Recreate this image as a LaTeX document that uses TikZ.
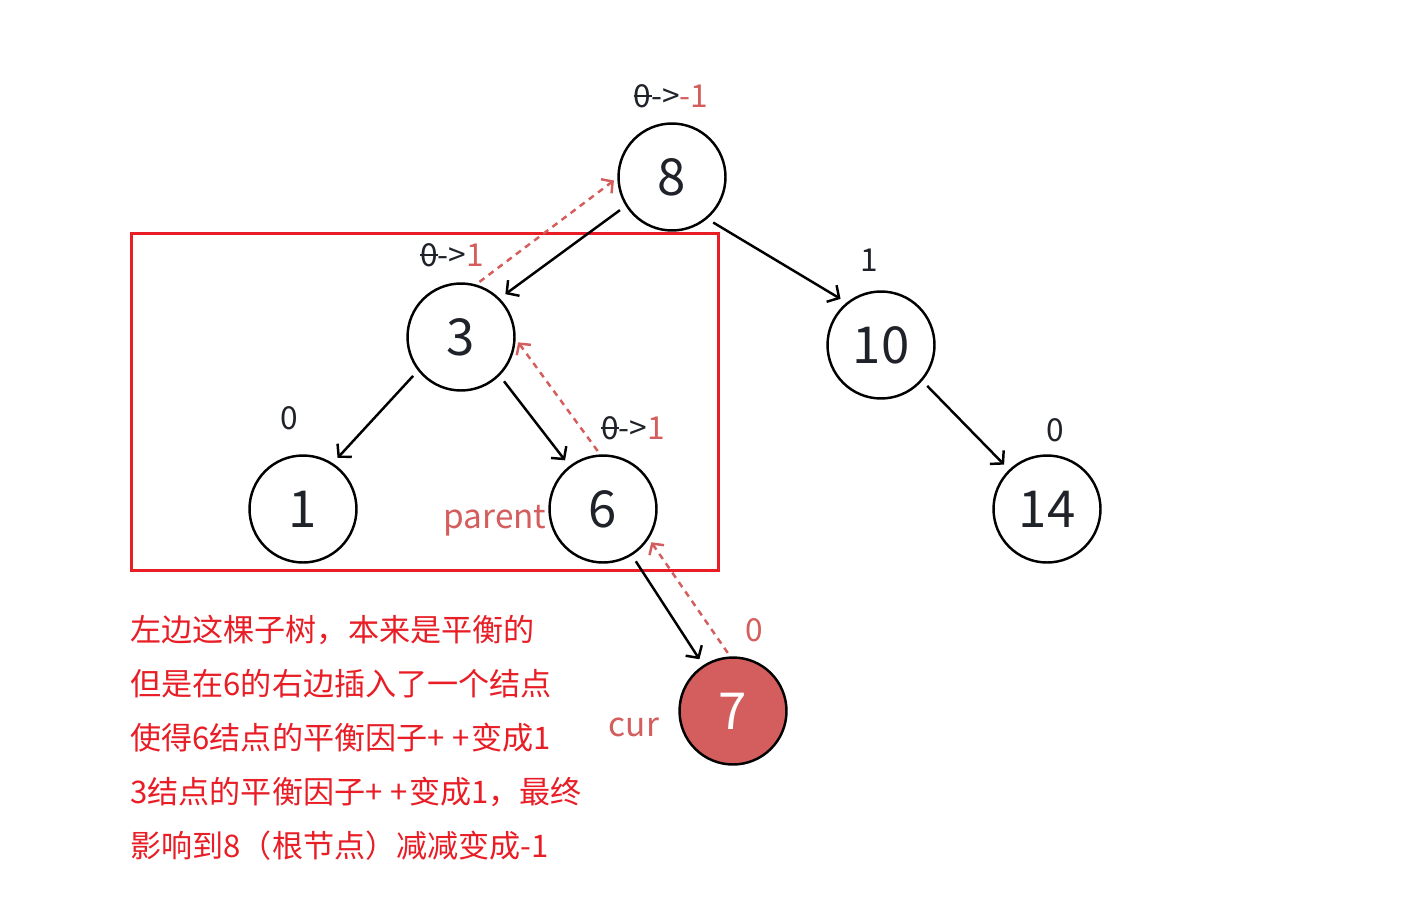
\documentclass[tikz,border=0pt]{standalone}
\usepackage{fontspec}
\setmainfont{Noto Sans CJK SC}
\usetikzlibrary{arrows.meta}
\definecolor{inkdark}{HTML}{1F2329}
\definecolor{softred}{HTML}{D45D5D}
\definecolor{boxred}{HTML}{E81D25}
\newcommand{\struckzero}{\rlap{\rule[0.33em]{0.57em}{0.065em}}0}
\newcommand{\plusplus}{+\kern0.25em+\kern0.05em}

\begin{document}
\begin{tikzpicture}[x=0.02cm,y=-0.02cm,
  tnode/.style={circle,draw=black,line width=1.4pt,minimum size=2.14cm,inner sep=0pt,text=inkdark,font=\fontsize{29}{34}\selectfont},
  edge/.style={line width=1.4pt,-{Straight Barb[length=5pt,width=11pt]},shorten <=4pt,shorten >=4pt},
  back/.style={softred,line width=1.4pt,dash pattern=on 3.5pt off 3pt,-{Straight Barb[length=4.5pt,width=10pt]},shorten <=2.4pt,shorten >=2.4pt},
  bf/.style={text=inkdark,font=\fontsize{18}{21}\selectfont},
  note/.style={text=softred,font=\fontsize{19}{22}\selectfont}]
\useasboundingbox (0,0) rectangle (1425,919);

% the box round the left subtree
\draw[boxred,line width=1.7pt] (131.5,233.5) rectangle (718.5,570);

% tree
\foreach \n/\x/\y in {8/672/177,3/461/337,10/881/345,1/303/509,6/603/509,14/1047/509}
  \node[tnode] (n\n) at (\x,\y) {\n};
\node[tnode,fill=softred,text=white] (n7) at (733,711) {7};

\foreach \a/\b/\p/\q in {8/3/212/45,8/10/-50/129,3/1/218/57,3/6/-45/128,10/14/-41/134,6/7/-58/123}
  \draw[edge] (n\a.\p) -- (n\b.\q);

% going back up to the root
\foreach \a/\b/\p/\q in {7/6/93/-33,6/3/93/-2,3/8/74/181}
  \draw[back] (n\a.\p) -- (n\b.\q);

% balance factors
\node[bf] (f8) at (671,96) {\struckzero->\textcolor{softred}{-1}};
\node[bf] (f3) at (452,255) {\struckzero->\textcolor{softred}{1}};
\node[bf] (f6) at (633,428) {\struckzero->\textcolor{softred}{1}};
\node[bf] (f10) at (869,260) {1};
\node[bf] (f1) at (289,418) {0};
\node[bf] (f14) at (1055,430) {0};
\node[bf,text=softred] (f7) at (754,630) {0};

\node[note] (lparent) at (495,521) {parent};
\node[note] (lcur) at (634,727) {cur};

\foreach \t [count=\i] in {左边这棵子树，本来是平衡的,%
  但是在6的右边插入了一个结点,%
  使得6结点的平衡因子\plusplus 变成1,%
  3结点的平衡因子\plusplus 变成1，最终,%
  影响到8（根节点）减减变成-1}
  \node[anchor=west,inner sep=0pt,text=boxred,font=\fontsize{17.7}{20}\selectfont] (txt\i) at (130,576+54*\i) {\t};
\end{tikzpicture}
\end{document}
